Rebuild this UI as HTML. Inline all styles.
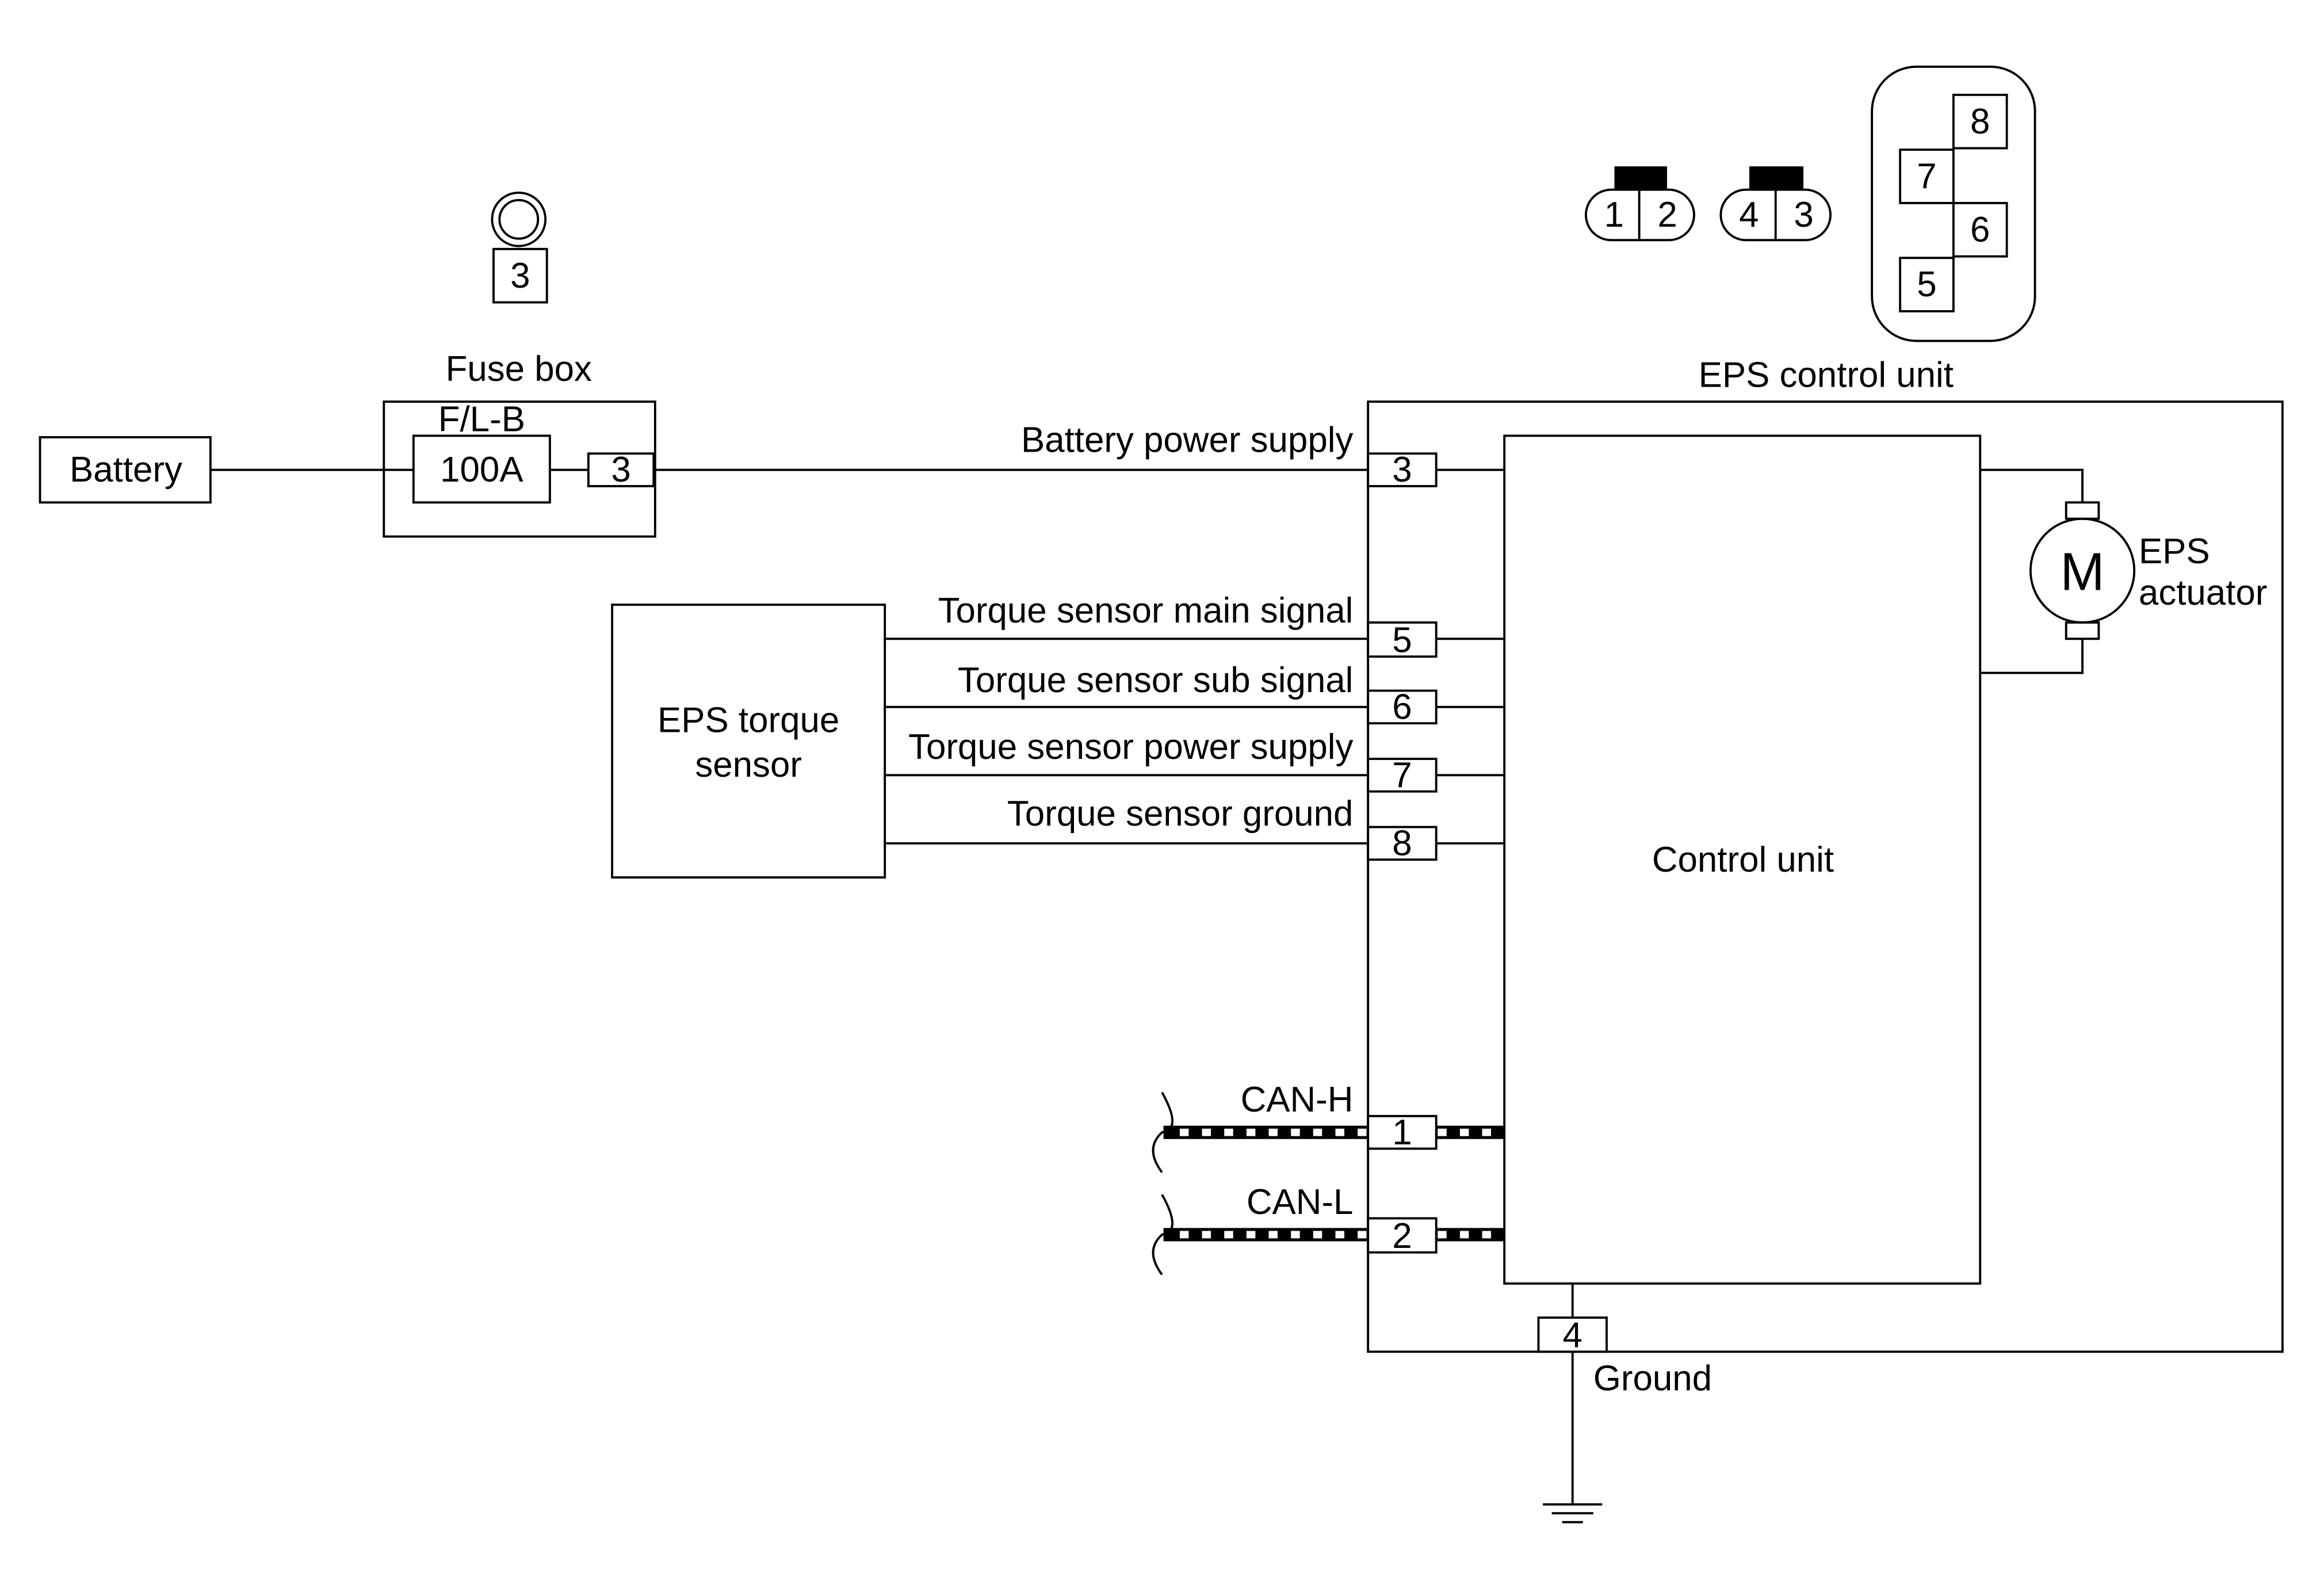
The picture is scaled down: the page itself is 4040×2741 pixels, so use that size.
<!DOCTYPE html>
<html><head><meta charset="utf-8"><style>html,body{margin:0;padding:0;background:#fff}svg{display:block}</style></head><body>
<svg width="4040" height="2741" viewBox="0 0 1568 1064" preserveAspectRatio="none" xmlns="http://www.w3.org/2000/svg" font-family="Liberation Sans, sans-serif" font-size="24" fill="none" stroke="#000" stroke-width="1.5">
<g>
<circle cx="350" cy="148" r="18"/><circle cx="350" cy="148" r="13"/>
<rect x="333" y="168" width="36" height="36"/>
<rect x="259" y="271" width="183" height="91"/>
<rect x="279" y="294" width="92" height="45"/>
<rect x="397" y="306" width="44" height="22"/>
<rect x="27" y="295" width="115" height="44"/>
<line x1="142" y1="317" x2="279" y2="317"/><line x1="371" y1="317" x2="397" y2="317"/><line x1="441" y1="317" x2="1015" y2="317"/>
<rect x="923" y="271" width="617" height="641"/>
<rect x="1015" y="294" width="321" height="572"/>
<rect x="413" y="408" width="184" height="184"/>
<line x1="597" y1="431" x2="1015" y2="431"/><line x1="597" y1="477" x2="1015" y2="477"/><line x1="597" y1="523" x2="1015" y2="523"/><line x1="597" y1="569" x2="1015" y2="569"/>
<g stroke="#000" stroke-width="9"><line x1="785" y1="764" x2="923" y2="764"/><line x1="969" y1="764" x2="1015" y2="764"/><line x1="785" y1="833" x2="923" y2="833"/><line x1="969" y1="833" x2="1015" y2="833"/></g>
<g stroke="#fff" stroke-width="5" stroke-dasharray="6 9"><line x1="796" y1="764" x2="923" y2="764"/><line x1="970" y1="764" x2="1010" y2="764"/><line x1="796" y1="833" x2="923" y2="833"/><line x1="970" y1="833" x2="1010" y2="833"/></g>
<path d="M784 737 Q798 762 784 764 Q772 775 784 791"/>
<path d="M784 806 Q798 831 784 833 Q772 844 784 860"/>
<g fill="#fff"><rect x="923" y="306" width="46" height="22"/><rect x="923" y="420" width="46" height="23"/><rect x="923" y="466" width="46" height="22"/><rect x="923" y="512" width="46" height="22"/><rect x="923" y="558" width="46" height="22"/><rect x="923" y="753" width="46" height="22"/><rect x="923" y="822" width="46" height="23"/></g>
<path d="M1336 317 H1405 V339 M1405 431 V454 H1336"/>
<rect x="1394" y="339" width="22" height="11"/><rect x="1394" y="420" width="22" height="11"/>
<circle cx="1405" cy="385" r="35"/>
<line x1="1061" y1="866" x2="1061" y2="889"/><rect x="1038" y="889" width="46" height="23"/><line x1="1061" y1="912" x2="1061" y2="1015"/>
<line x1="1041" y1="1015" x2="1081" y2="1015"/><line x1="1047" y1="1021" x2="1075" y2="1021"/><line x1="1054" y1="1027" x2="1068" y2="1027"/>
<rect x="1070" y="128" width="73" height="34" rx="17"/><rect x="1090" y="113" width="34" height="14" fill="#000"/><line x1="1106" y1="128" x2="1106" y2="162"/>
<rect x="1161" y="128" width="74" height="34" rx="17"/><rect x="1181" y="113" width="35" height="14" fill="#000"/><line x1="1198" y1="128" x2="1198" y2="162"/>
<rect x="1263" y="45" width="110" height="185" rx="30"/>
<rect x="1318" y="64" width="36" height="36"/><rect x="1282" y="101" width="36" height="36"/><rect x="1318" y="137" width="36" height="36"/><rect x="1282" y="174" width="36" height="36"/>
</g>
<g fill="#000" stroke="none" text-anchor="middle">
<text x="351" y="194">3</text>
<text x="350" y="257">Fuse box</text>
<text x="325" y="291">F/L-B</text>
<text x="325" y="325">100A</text>
<text x="419" y="325">3</text>
<text x="85" y="325">Battery</text>
<text x="1232" y="261">EPS control unit</text>
<text x="1176" y="588">Control unit</text>
<text x="505" y="494">EPS torque</text><text x="505" y="524">sensor</text>
<text x="946" y="325">3</text><text x="946" y="440">5</text><text x="946" y="485">6</text><text x="946" y="531">7</text><text x="946" y="577">8</text><text x="946" y="772">1</text><text x="946" y="842">2</text>
<text x="1061" y="909">4</text>
<text x="1405" y="398" font-size="36">M</text>
<text x="1089" y="153">1</text><text x="1125" y="153">2</text><text x="1180" y="153">4</text><text x="1217" y="153">3</text>
<text x="1336" y="90">8</text><text x="1300" y="127">7</text><text x="1336" y="163">6</text><text x="1300" y="200">5</text>
</g>
<g fill="#000" stroke="none" text-anchor="end">
<text x="913" y="305">Battery power supply</text>
<text x="913" y="420">Torque sensor main signal</text>
<text x="913" y="467">Torque sensor sub signal</text>
<text x="913" y="512">Torque sensor power supply</text>
<text x="913" y="557">Torque sensor ground</text>
<text x="913" y="750">CAN-H</text>
<text x="913" y="819">CAN-L</text>
</g>
<g fill="#000" stroke="none">
<text x="1443" y="380">EPS</text><text x="1443" y="408">actuator</text>
<text x="1075" y="938">Ground</text>
</g>
</svg>
</body></html>
